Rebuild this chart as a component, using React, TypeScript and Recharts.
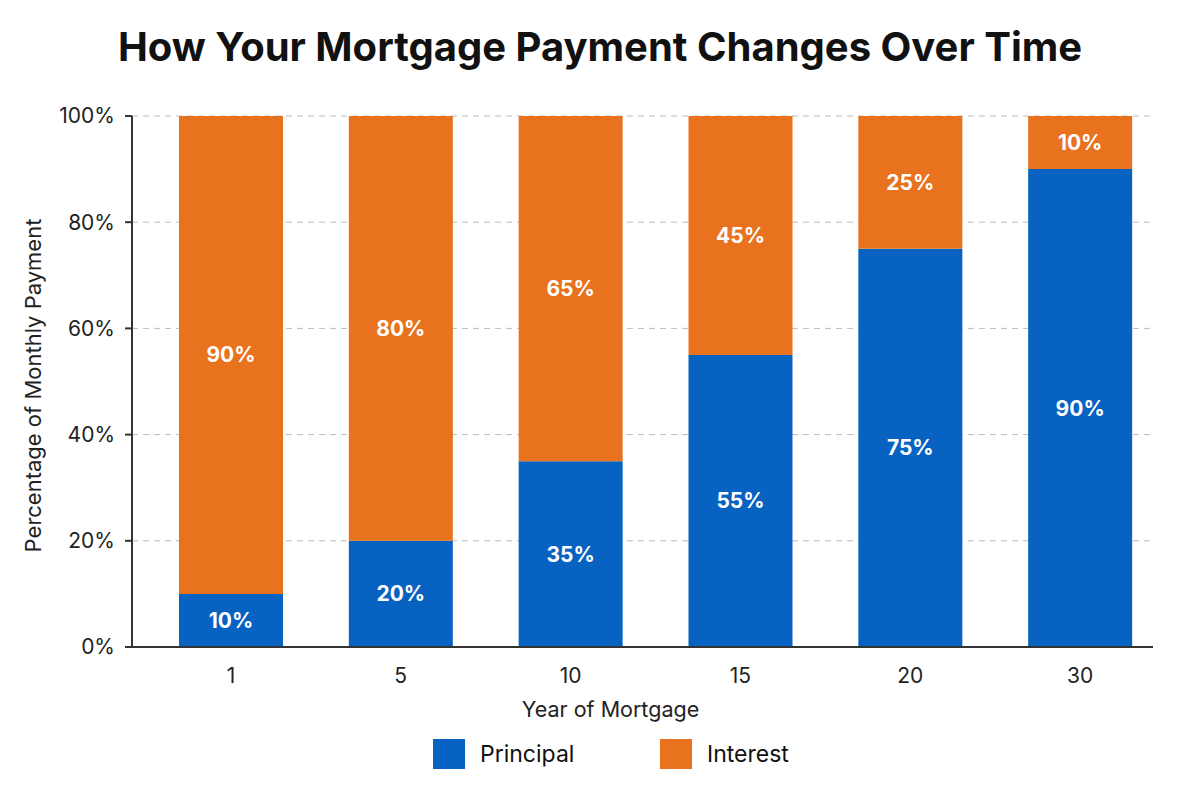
import { BarChart, Bar, XAxis, YAxis, CartesianGrid, LabelList } from 'recharts';

const years = ['1', '5', '10', '15', '20', '30'];
const principal = [10, 20, 35, 55, 75, 90];
const interest = [90, 80, 65, 45, 25, 10];
const yTicks = [0, 20, 40, 60, 80, 100];

const BLUE = '#0762c2';
const ORANGE = '#e8721d';
const FONT = 'Inter, "Noto Sans", sans-serif';

const data = years.map((year, i) => ({
  year,
  principal: principal[i],
  interest: interest[i],
}));

const pct = (v: any) => `${v}%`;

export default function App() {
  return (
    <div style={{ position: 'absolute', left: 0, top: 0, width: 1200, height: 800, background: '#fff', fontFamily: FONT }}>
      <div
        style={{
          position: 'absolute',
          top: 22,
          left: 0,
          width: 1200,
          textAlign: 'center',
          fontSize: 40,
          fontWeight: 700,
          color: '#111',
        }}
      >
        How Your Mortgage Payment Changes Over Time
      </div>

      <BarChart
        width={1200}
        height={800}
        data={data}
        margin={{ top: 116, right: 47, bottom: 123, left: 0 }}
        style={{ fontFamily: FONT }}
      >
        <CartesianGrid vertical={false} stroke="#bbb" strokeDasharray="6 5" />
        <XAxis
          dataKey="year"
          padding={{ left: 14, right: -12 }}
          axisLine={{ stroke: '#333', strokeWidth: 2 }}
          tickLine={false}
          tick={{ fill: '#222', fontSize: 21 }}
          tickMargin={15}
          label={{ value: 'Year of Mortgage', position: 'insideBottom', offset: -40, dx: -32, fill: '#222', fontSize: 21.5 }}
        />
        <YAxis
          width={132}
          domain={[0, 100]}
          ticks={yTicks}
          tickFormatter={pct}
          axisLine={{ stroke: '#333', strokeWidth: 2 }}
          tickLine={{ stroke: '#333', strokeWidth: 2 }}
          tickSize={7}
          tick={{ fill: '#222', fontSize: 21 }}
          tickMargin={10}
          label={{
            value: 'Percentage of Monthly Payment',
            angle: -90,
            position: 'insideLeft',
            offset: 33,
            dy: 4,
            style: { textAnchor: 'middle' },
            fill: '#222',
            fontSize: 22,
          }}
        />
        <Bar dataKey="principal" stackId="a" fill={BLUE} barSize={104} isAnimationActive={false}>
          <LabelList dataKey="principal" position="center" formatter={pct} fill="#fff" fontSize={21} fontWeight={700} />
        </Bar>
        <Bar dataKey="interest" stackId="a" fill={ORANGE} barSize={104} isAnimationActive={false}>
          <LabelList dataKey="interest" position="center" formatter={pct} fill="#fff" fontSize={21} fontWeight={700} />
        </Bar>
      </BarChart>

      <div style={{ position: 'absolute', top: 739, left: 433, display: 'flex', alignItems: 'center', fontSize: 23, color: '#111' }}>
        <span style={{ width: 32, height: 30, background: BLUE, display: 'inline-block', marginRight: 15 }} />
        <span style={{ width: 180 }}>Principal</span>
        <span style={{ width: 32, height: 30, background: ORANGE, display: 'inline-block', marginRight: 15 }} />
        <span>Interest</span>
      </div>
    </div>
  );
}
